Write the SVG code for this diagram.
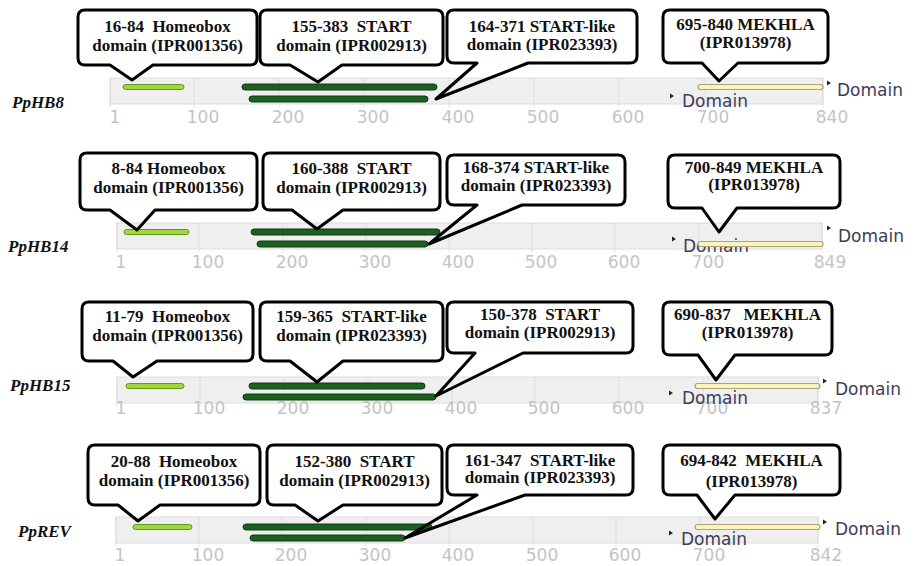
<svg xmlns="http://www.w3.org/2000/svg" width="914" height="566" viewBox="0 0 914 566">
<style>
.box{fill:none;stroke:#000;stroke-width:3;stroke-linejoin:round}
.lbl{font-family:"Liberation Serif","Times New Roman",serif;font-weight:bold;font-size:17px;text-anchor:middle;fill:#111;white-space:pre}
.gene{font-family:"Liberation Serif","Times New Roman",serif;font-weight:bold;font-style:italic;font-size:17px;fill:#111}
.band{fill:#efefef;stroke:#dddddd;stroke-width:1}
.grid{stroke:#cfcfcf;stroke-width:1;stroke-dasharray:1 1}
.tick{font-family:"DejaVu Sans",Verdana,sans-serif;font-size:17px;fill:#c4c4c4;text-anchor:middle}
.dom{font-family:"DejaVu Sans",Verdana,sans-serif;font-size:17px;fill:#3d3d5c}
.mkr{fill:#222}
.hb{fill:#a2d63a;stroke:#5e9a1e;stroke-width:1}
.st{fill:#1d5e21;stroke:#0f3d12;stroke-width:1}
.mk{fill:#f8f4bc;stroke:#aaa478;stroke-width:1.2}
</style>

<!-- ===== Panel 1: PpHB8 ===== -->
<g id="track-PpHB8">
  <text class="gene" x="12" y="108">PpHB8</text>
  <rect class="band" x="110" y="78" width="713" height="26"/>
  <path class="grid" d="M110 78V108M194 78V108M279 78V108M364 78V108M449 78V108M534 78V108M619 78V108M704 78V108M823 78V108"/>
  <g class="tick">
    <text x="115" y="123">1</text><text x="203" y="123">100</text><text x="288" y="123">200</text><text x="373" y="123">300</text><text x="458" y="123">400</text><text x="543" y="123">500</text><text x="628" y="123">600</text><text x="713" y="123">700</text><text x="832" y="123">840</text>
  </g>
  <path class="mkr" d="M827 80.5L831 83L827 85.5Z"/>
  <text class="dom" x="837" y="96">Domain</text>
  <path class="mkr" d="M670 93.5L674 96L670 98.5Z"/>
  <text class="dom" x="682" y="107">Domain</text>
  <rect id="PpHB8-homeobox" class="hb" x="123" y="84.5" width="61" height="5" rx="2.5"/>
  <rect id="PpHB8-start" class="st" x="242" y="84" width="195" height="6" rx="3"/>
  <rect id="PpHB8-startlike" class="st" x="249" y="96" width="179" height="6" rx="3"/>
  <rect id="PpHB8-mekhla" class="mk" x="698" y="84.5" width="125" height="5" rx="2.5"/>
</g>
<g id="callout-PpHB8-homeobox">
  <path class="box" d="M85 10H250Q257 10 257 17V58Q257 65 250 65H153L132 80L110 65H85Q78 65 78 58V17Q78 10 85 10Z"/>
  <text class="lbl" x="167.5" y="32">16-84  Homeobox</text>
  <text class="lbl" x="167.5" y="51">domain (IPR001356)</text>
</g>
<g id="callout-PpHB8-start">
  <path class="box" d="M267 10H436Q443 10 443 17V58Q443 65 436 65H342L318 82L290 65H267Q260 65 260 58V17Q260 10 267 10Z"/>
  <text class="lbl" x="351.5" y="32">155-383  START</text>
  <text class="lbl" x="351.5" y="51">domain (IPR002913)</text>
</g>
<g id="callout-PpHB8-startlike">
  <path class="box" d="M454 10H630Q637 10 637 17V56Q637 63 630 63H528L436 99L477 63H454Q447 63 447 56V17Q447 10 454 10Z"/>
  <text class="lbl" x="542" y="32">164-371 START-like</text>
  <text class="lbl" x="542" y="50">domain (IPR023393)</text>
</g>
<g id="callout-PpHB8-mekhla">
  <path class="box" d="M670 10H821Q828 10 828 17V56Q828 63 821 63H738L719 81L702 63H670Q663 63 663 56V17Q663 10 670 10Z"/>
  <text class="lbl" x="745.5" y="30">695-840 MEKHLA</text>
  <text class="lbl" x="745.5" y="48">(IPR013978)</text>
</g>

<!-- ===== Panel 2: PpHB14 ===== -->
<g id="track-PpHB14">
  <text class="gene" x="8" y="252">PpHB14</text>
  <rect class="band" x="117" y="223" width="705" height="26"/>
  <path class="grid" d="M117 223V253M199 223V253M283 223V253M366 223V253M449 223V253M532 223V253M615 223V253M699 223V253M822 223V253"/>
  <g class="tick">
    <text x="121" y="268">1</text><text x="208" y="268">100</text><text x="292" y="268">200</text><text x="375" y="268">300</text><text x="458" y="268">400</text><text x="541" y="268">500</text><text x="624" y="268">600</text><text x="708" y="268">700</text><text x="830" y="268">849</text>
  </g>
  <path class="mkr" d="M827 225.5L831 228L827 230.5Z"/>
  <text class="dom" x="838" y="242">Domain</text>
  <path class="mkr" d="M672 236.5L676 239L672 241.5Z"/>
  <text class="dom" x="683" y="252">Domain</text>
  <rect id="PpHB14-homeobox" class="hb" x="124" y="229.5" width="65" height="5" rx="2.5"/>
  <rect id="PpHB14-start" class="st" x="251" y="229" width="189" height="6" rx="3"/>
  <rect id="PpHB14-startlike" class="st" x="257" y="241" width="171" height="6" rx="3"/>
  <rect id="PpHB14-mekhla" class="mk" x="698" y="241.5" width="125" height="5" rx="2.5"/>
</g>
<g id="callout-PpHB14-homeobox">
  <path class="box" d="M87 153H250Q257 153 257 160V203Q257 210 250 210H155L137 230L110 210H87Q80 210 80 203V160Q80 153 87 153Z"/>
  <text class="lbl" x="168.5" y="174">8-84 Homeobox</text>
  <text class="lbl" x="168.5" y="193">domain (IPR001356)</text>
</g>
<g id="callout-PpHB14-start">
  <path class="box" d="M270 153H433Q440 153 440 160V203Q440 210 433 210H343L317 229L292 210H270Q263 210 263 203V160Q263 153 270 153Z"/>
  <text class="lbl" x="351.5" y="174">160-388  START</text>
  <text class="lbl" x="351.5" y="193">domain (IPR002913)</text>
</g>
<g id="callout-PpHB14-startlike">
  <path class="box" d="M454 155H618Q625 155 625 162V198Q625 205 618 205H522L429 244L477 205H454Q447 205 447 198V162Q447 155 454 155Z"/>
  <text class="lbl" x="536" y="173">168-374 START-like</text>
  <text class="lbl" x="536" y="191">domain (IPR023393)</text>
</g>
<g id="callout-PpHB14-mekhla">
  <path class="box" d="M675 155H833Q840 155 840 162V201Q840 208 833 208H737L719 232L702 208H675Q668 208 668 201V162Q668 155 675 155Z"/>
  <text class="lbl" x="754" y="173">700-849 MEKHLA</text>
  <text class="lbl" x="754" y="190">(IPR013978)</text>
</g>

<!-- ===== Panel 3: PpHB15 ===== -->
<g id="track-PpHB15">
  <text class="gene" x="10" y="391">PpHB15</text>
  <rect class="band" x="117" y="377" width="701" height="26"/>
  <path class="grid" d="M117 377V407M200 377V407M284 377V407M368 377V407M452 377V407M535 377V407M619 377V407M703 377V407M818 377V407"/>
  <g class="tick">
    <text x="121" y="414">1</text><text x="209" y="414">100</text><text x="293" y="414">200</text><text x="377" y="414">300</text><text x="461" y="414">400</text><text x="544" y="414">500</text><text x="628" y="414">600</text><text x="712" y="414">700</text><text x="826" y="414">837</text>
  </g>
  <path class="mkr" d="M823 378.5L827 381L823 383.5Z"/>
  <text class="dom" x="835" y="395">Domain</text>
  <path class="mkr" d="M669 390.5L673 393L669 395.5Z"/>
  <text class="dom" x="682" y="404">Domain</text>
  <rect id="PpHB15-homeobox" class="hb" x="126" y="383.5" width="58" height="5" rx="2.5"/>
  <rect id="PpHB15-startlike" class="st" x="249" y="383" width="176" height="6" rx="3"/>
  <rect id="PpHB15-start" class="st" x="243" y="394" width="193" height="6" rx="3"/>
  <rect id="PpHB15-mekhla" class="mk" x="695" y="383.5" width="125" height="5" rx="2.5"/>
</g>
<g id="callout-PpHB15-homeobox">
  <path class="box" d="M89 302H246Q253 302 253 309V354Q253 361 246 361H157L133 377L113 361H89Q82 361 82 354V309Q82 302 89 302Z"/>
  <text class="lbl" x="167.5" y="322">11-79  Homeobox</text>
  <text class="lbl" x="167.5" y="341">domain (IPR001356)</text>
</g>
<g id="callout-PpHB15-startlike">
  <path class="box" d="M267 302H436Q443 302 443 309V354Q443 361 436 361H343L317 382L290 361H267Q260 361 260 354V309Q260 302 267 302Z"/>
  <text class="lbl" x="351.5" y="322">159-365  START-like</text>
  <text class="lbl" x="351.5" y="341">domain (IPR023393)</text>
</g>
<g id="callout-PpHB15-start">
  <path class="box" d="M454 302H626Q633 302 633 309V346Q633 353 626 353H523L436 396L475 353H454Q447 353 447 346V309Q447 302 454 302Z"/>
  <text class="lbl" x="540" y="320">150-378  START</text>
  <text class="lbl" x="540" y="338">domain (IPR002913)</text>
</g>
<g id="callout-PpHB15-mekhla">
  <path class="box" d="M670 302H825Q832 302 832 309V348Q832 355 825 355H735L716 380L698 355H670Q663 355 663 348V309Q663 302 670 302Z"/>
  <text class="lbl" x="747.5" y="320">690-837   MEKHLA</text>
  <text class="lbl" x="747.5" y="338">(IPR013978)</text>
</g>

<!-- ===== Panel 4: PpREV ===== -->
<g id="track-PpREV">
  <text class="gene" x="18" y="537">PpREV</text>
  <rect class="band" x="116" y="517" width="702" height="26"/>
  <path class="grid" d="M116 517V547M199 517V547M282 517V547M366 517V547M449 517V547M533 517V547M616 517V547M700 517V547M818 517V547"/>
  <g class="tick">
    <text x="120" y="561">1</text><text x="208" y="561">100</text><text x="291" y="561">200</text><text x="375" y="561">300</text><text x="458" y="561">400</text><text x="542" y="561">500</text><text x="625" y="561">600</text><text x="709" y="561">700</text><text x="826" y="561">842</text>
  </g>
  <path class="mkr" d="M823 519.5L827 522L823 524.5Z"/>
  <text class="dom" x="835" y="535">Domain</text>
  <path class="mkr" d="M669 530.5L673 533L669 535.5Z"/>
  <text class="dom" x="681" y="545">Domain</text>
  <rect id="PpREV-homeobox" class="hb" x="133" y="524.5" width="59" height="5" rx="2.5"/>
  <rect id="PpREV-start" class="st" x="243" y="524" width="189" height="6" rx="3"/>
  <rect id="PpREV-startlike" class="st" x="250" y="535" width="155" height="6" rx="3"/>
  <rect id="PpREV-mekhla" class="mk" x="695" y="524.5" width="125" height="5" rx="2.5"/>
</g>
<g id="callout-PpREV-homeobox">
  <path class="box" d="M95 445H253Q260 445 260 452V498Q260 505 253 505H160L138 521L118 505H95Q88 505 88 498V452Q88 445 95 445Z"/>
  <text class="lbl" x="174" y="467">20-88  Homeobox</text>
  <text class="lbl" x="174" y="486">domain (IPR001356)</text>
</g>
<g id="callout-PpREV-start">
  <path class="box" d="M274 445H435Q442 445 442 452V498Q442 505 435 505H343L318 521L295 505H274Q267 505 267 498V452Q267 445 274 445Z"/>
  <text class="lbl" x="354.5" y="467">152-380  START</text>
  <text class="lbl" x="354.5" y="486">domain (IPR002913)</text>
</g>
<g id="callout-PpREV-startlike">
  <path class="box" d="M454 445H626Q633 445 633 452V488Q633 495 626 495H525L405 538L477 495H454Q447 495 447 488V452Q447 445 454 445Z"/>
  <text class="lbl" x="540" y="466">161-347  START-like</text>
  <text class="lbl" x="540" y="483">domain (IPR023393)</text>
</g>
<g id="callout-PpREV-mekhla">
  <path class="box" d="M670 445H833Q840 445 840 452V488Q840 495 833 495H735L715 519L697 495H670Q663 495 663 488V452Q663 445 670 445Z"/>
  <text class="lbl" x="751.5" y="466">694-842  MEKHLA</text>
  <text class="lbl" x="751.5" y="487">(IPR013978)</text>
</g>
<g id="connectors"></g>
</svg>
